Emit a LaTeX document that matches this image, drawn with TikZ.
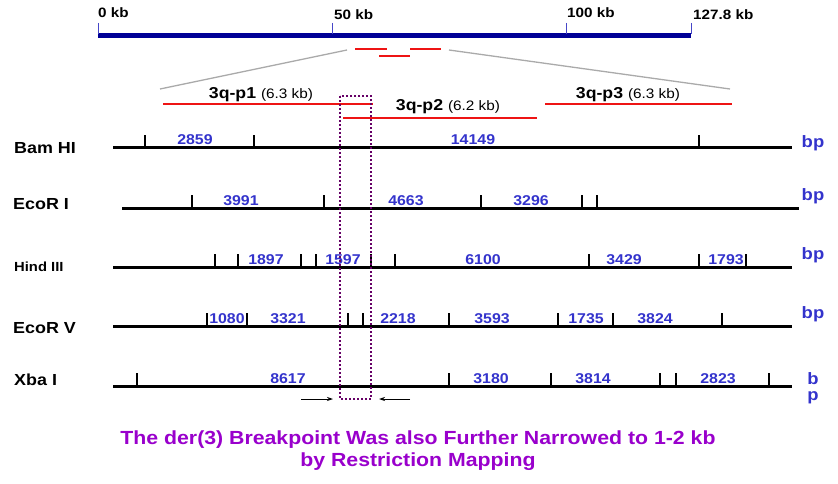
\documentclass[tikz,border=0pt]{standalone}
\usepackage{fontspec}
\setmainfont[FakeStretch=1.12]{Liberation Sans}
\usetikzlibrary{arrows.meta}
\definecolor{numblue}{RGB}{51,51,204}
\definecolor{navybar}{RGB}{0,0,150}
\definecolor{tickblue}{RGB}{70,70,200}
\definecolor{ttlpurple}{RGB}{153,0,204}
\definecolor{boxpurple}{RGB}{102,0,102}
\definecolor{fragred}{RGB}{238,20,20}
\definecolor{zoomgray}{RGB}{170,170,170}
\begin{document}
\begin{tikzpicture}[x=1pt,y=-1pt,
  kblabel/.style={font=\fontsize{13.6}{15}\selectfont\bfseries,anchor=base west,inner sep=0pt},
  rowname/.style={font=\fontsize{16}{18}\selectfont\bfseries,anchor=west,inner sep=0pt},
  num/.style={font=\fontsize{14.2}{16}\selectfont\bfseries,text=numblue,anchor=base,inner sep=0pt},
  bplabel/.style={font=\fontsize{16.5}{18}\selectfont\bfseries,text=numblue,inner sep=0pt},
  fraglabel/.style={inner sep=0pt,anchor=center},
  fragline/.style={draw=fragred,line width=2.4pt},
  mapline/.style={draw=black,line width=3pt},
  sitetick/.style={draw=black,line width=2.2pt},
  title/.style={font=\fontsize{19}{22}\selectfont\bfseries,text=ttlpurple,align=center,inner sep=0pt}]
\useasboundingbox (0,0) rectangle (838,484);
% top scale bar
\draw[navybar,line width=5pt] (98,35.5) -- (691,35.5);
\foreach \x in {98,332,566,691}
  \draw[tickblue,line width=1pt] (\x,23) -- (\x,34);
\node[kblabel] (k0) at (98,18) {0 kb};
\node[kblabel] (k50) at (334,20) {50 kb};
\node[kblabel] (k100) at (567,18) {100 kb};
\node[kblabel] (k127) at (693,20) {127.8 kb};
% small fragments
\draw[fragline] (355,49) -- (387,49);
\draw[fragline] (410,49) -- (441,49);
\draw[fragline] (379,56) -- (410,56);
% zoom lines
\coordinate (zl1) at (347,50);
\coordinate (zl2) at (160,89);
\coordinate (zr1) at (449,50);
\coordinate (zr2) at (730,89);
\draw[zoomgray,line width=1.3pt] (zl1) -- (zl2);
\draw[zoomgray,line width=1.3pt] (zr1) -- (zr2);
% fragments
\coordinate (p1a) at (163,104); \coordinate (p1b) at (373,104);
\coordinate (p2a) at (343,118); \coordinate (p2b) at (537,118);
\coordinate (p3a) at (545,104); \coordinate (p3b) at (732,104);
\draw[fragline] (p1a) -- (p1b);
\draw[fragline] (p2a) -- (p2b);
\draw[fragline] (p3a) -- (p3b);
\node[fraglabel] (l1) at (261,95) {\fontsize{15.8}{17}\selectfont\bfseries 3q-p1 \fontsize{13.7}{15}\selectfont\mdseries(6.3 kb)};
\node[fraglabel] (l2) at (448,107) {\fontsize{15.8}{17}\selectfont\bfseries 3q-p2 \fontsize{13.7}{15}\selectfont\mdseries(6.2 kb)};
\node[fraglabel] (l3) at (628,95) {\fontsize{15.8}{17}\selectfont\bfseries 3q-p3 \fontsize{13.7}{15}\selectfont\mdseries(6.3 kb)};
% restriction map lines
\foreach \y/\xa/\xb/\tl in {148/113/792/{145,254,699},
                            208/122/799/{192,324,481,582,597},
                            267/113/792/{215,238,301,316,371,395,589,699,746},
                            326/113/792/{207,247,348,363,449,558,613,722},
                            386/113/792/{137,449,551,660,676,769}}{
  \draw[mapline] (\xa,\y) -- (\xb,\y);
  \foreach \t in \tl
    \draw[sitetick] (\t,\y) -- (\t,\y-13);
}
% row names
\node[rowname] (r1) at (14,148) {Bam HI};
\node[rowname] (r2) at (13,204) {EcoR I};
\node[rowname,font=\fontsize{13.2}{15}\selectfont\bfseries] (r3) at (14,267) {Hind III};
\node[rowname] (r4) at (13,328) {EcoR V};
\node[rowname] (r5) at (14,380) {Xba I};
% fragment sizes
\foreach \x/\y/\t [count=\i] in {195/145/2859, 473/145/14149,
   241/205/3991, 406/205/4663, 531/205/3296,
   266/264/1897, 343/264/1597, 483/264/6100, 624/264/3429, 726/264/1793,
   227/323/1080, 288/323/3321, 398/323/2218, 492/323/3593, 586/323/1735, 655/323/3824,
   288/383/8617, 491/383/3180, 593/383/3814, 718/383/2823}
  \node[num] (s\i) at (\x,\y) {\t};
% bp labels
\node[bplabel] (bp1) at (813,143) {bp};
\node[bplabel] (bp2) at (813,196) {bp};
\node[bplabel] (bp3) at (813,255) {bp};
\node[bplabel] (bp4) at (813,314) {bp};
\node[bplabel] (bp5a) at (813,379) {b};
\node[bplabel] (bp5b) at (813,398) {p};
% breakpoint box
\coordinate (bx1) at (340,96);
\coordinate (bx2) at (371,399);
\draw[boxpurple,line width=2pt,dotted] (bx1) rectangle (bx2);
\coordinate (al1) at (301,399); \coordinate (al2) at (333,399);
\coordinate (ar1) at (410,399); \coordinate (ar2) at (379,399);
\draw[-{Stealth[length=6pt,width=4pt]},line width=0.8pt] (al1) -- (al2);
\draw[-{Stealth[length=6pt,width=4pt]},line width=0.8pt] (ar1) -- (ar2);
% title
\node[title] (t1) at (418,440) {The der(3) Breakpoint Was also Further Narrowed to 1-2 kb};
\node[title] (t2) at (418,462) {by Restriction Mapping};
\end{tikzpicture}
\end{document}
